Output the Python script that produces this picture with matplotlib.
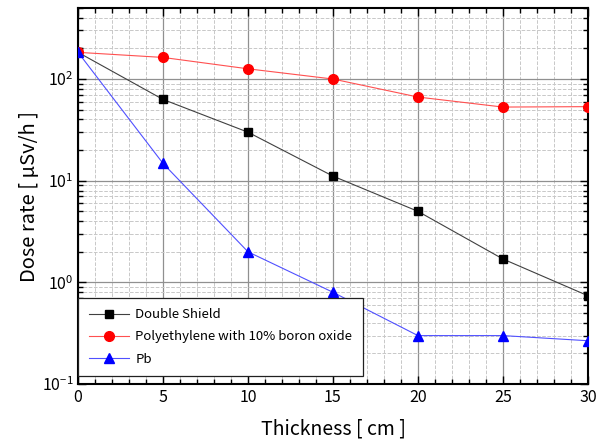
import numpy as np
import matplotlib
matplotlib.use("Agg")
import matplotlib.pyplot as plt
from matplotlib.ticker import LogLocator, MultipleLocator, NullFormatter

plt.rcParams['font.family'] = ['Noto Sans CJK JP', 'DejaVu Sans']

# data
thickness = [0, 5, 10, 15, 20, 25, 30]
double_shield = [183, 63, 30, 11.1, 5.0, 1.7, 0.74]
polyethylene = [183, 163, 126, 100, 66.5, 53, 53.5]
lead = [183, 14.8, 2.0, 0.8, 0.30, 0.30, 0.267]

labels = ["Double Shield", "Polyethylene with 10% boron oxide", "Pb"]


def main():
    fig = plt.figure(figsize=(5.97, 4.41), dpi=100)
    ax = fig.add_axes([0.1307, 0.129, 0.854, 0.853])

    ax.plot(thickness, double_shield, color='#404040', lw=0.8, marker='s',
            ms=6, mfc='black', mec='black', label=labels[0], zorder=3)
    ax.plot(thickness, polyethylene, color='#ff5050', lw=0.8, marker='o',
            ms=7, mfc='red', mec='red', label=labels[1], zorder=3)
    ax.plot(thickness, lead, color='#5050ff', lw=0.8, marker='^',
            ms=7.5, mfc='blue', mec='blue', label=labels[2], zorder=3)

    ax.set_yscale('log')
    ax.set_xlim(0, 30)
    ax.set_ylim(0.1, 500)

    ax.xaxis.set_major_locator(MultipleLocator(5))
    ax.xaxis.set_minor_locator(MultipleLocator(1))
    ax.yaxis.set_major_locator(LogLocator(base=10, numticks=10))
    ax.yaxis.set_minor_locator(LogLocator(base=10, subs=np.arange(2, 10), numticks=20))
    ax.yaxis.set_minor_formatter(NullFormatter())

    ax.grid(which='major', color='#909090', lw=0.9, ls='-')
    ax.grid(which='minor', color='#c8c8c8', lw=0.7, ls='--')
    ax.set_axisbelow(True)

    ax.tick_params(which='both', direction='in', top=True, right=True, labelsize=11.5)
    ax.tick_params(which='major', length=6, width=1)
    ax.tick_params(which='minor', length=3.5, width=1)
    for s in ax.spines.values():
        s.set_linewidth(1.5)

    ax.set_xlabel("Thickness [ cm ]", fontsize=14, labelpad=9)
    ax.set_ylabel("Dose rate [ μSv/h ]", fontsize=14.5, labelpad=1)

    leg = ax.legend(loc='lower left', bbox_to_anchor=(0.0, 0.021), borderaxespad=0,
                    fontsize=9.5, handlelength=3.1, handletextpad=0.45,
                    fancybox=False, framealpha=1, edgecolor='#202020',
                    borderpad=0.8, labelspacing=0.7)
    leg.get_frame().set_linewidth(0.9)

    plt.savefig("out.png", dpi=100)


if __name__ == "__main__":
    main()
